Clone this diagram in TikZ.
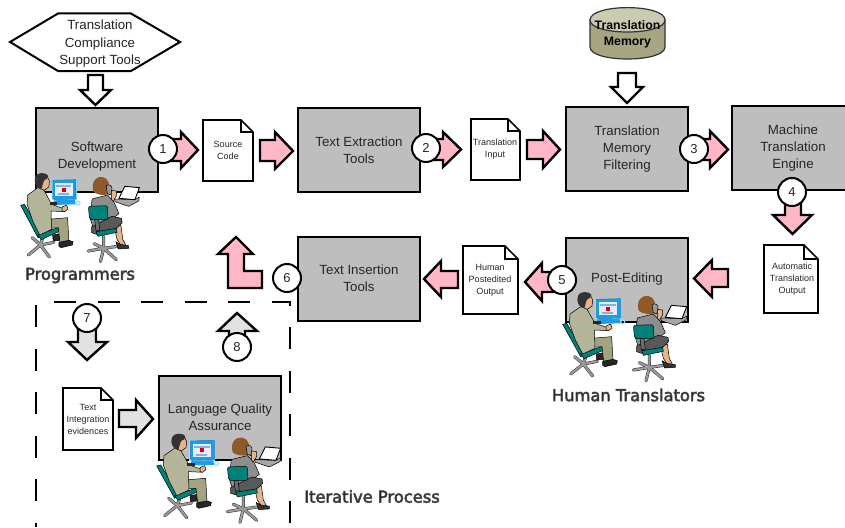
\documentclass[tikz,border=0pt]{standalone}
\usepackage{fontspec}
\setmainfont{Liberation Sans}
\newfontfamily\capfont{DejaVu Sans}
\newcommand{\halo}[1]{\special{pdf:code q 2 Tr 0.6 w 0.3 G}#1\special{pdf:code Q}}
\definecolor{boxgray}{HTML}{BEBEBE}
\definecolor{arrowpink}{HTML}{FFB6C6}
\definecolor{arrowgray}{HTML}{E2E2E2}
\definecolor{inkc}{HTML}{262626}
\definecolor{teal1}{HTML}{00827A}
\definecolor{khaki1}{HTML}{B4B498}
\definecolor{khaki2}{HTML}{A3A37F}
\definecolor{skin}{HTML}{E4B48C}
\definecolor{hairb}{HTML}{8E5A28}
\definecolor{suitg}{HTML}{8E8E8E}
\definecolor{chairg}{HTML}{9A9A9A}
\definecolor{monblue}{HTML}{1E9CE6}
\definecolor{monglow}{HTML}{8FE4FF}
\definecolor{monband}{HTML}{7FB4E0}
\definecolor{cyltop}{HTML}{CBCBB2}
\definecolor{cylbody}{HTML}{A6A683}
\tikzset{
  procbox/.style={draw=black,line width=2pt,fill=boxgray,minimum width=122pt,minimum height=84pt,inner sep=0pt,align=center,text=inkc,font=\fontsize{13.3}{17}\selectfont},
  hexbox/.style={draw=black,line width=2pt,fill=white,line join=miter},
  hextext/.style={align=center,text=inkc,inner sep=0pt,font=\fontsize{13.3}{17.5}\selectfont},
  docshape/.style={draw=black,line width=1.7pt,fill=white,line join=miter},
  doctext/.style={align=center,text=inkc,inner sep=0pt,font=\fontsize{9}{12}\selectfont},
  blockarrow/.style={draw=black,line width=2.4pt,line join=miter,miter limit=10},
  stepcircle/.style={circle,draw=black,line width=2pt,fill=white,minimum size=28pt,inner sep=0pt,text=inkc,font=\fontsize{13}{15}\selectfont},
  caption/.style={inner sep=0pt,text=inkc,font=\fontsize{16.3}{19}\capfont},
  dashframe/.style={draw=black,line width=2pt,dash pattern=on 22pt off 21.5pt},
  pline/.style={draw=black,line width=0.5pt,line join=round},
  legcase/.style={draw=black!80,line width=3.1pt,line cap=round},
  legfill/.style={draw=chairg,line width=2.1pt,line cap=round}
}
% name, x0, y0, x1, y1, fold, text x, text y, text
\newcommand{\docnode}[9]{%
  \draw[docshape] (#2,#3) -- (#4-#6,#3) -- (#4,#3+#6) -- (#4,#5) -- (#2,#5) -- cycle;
  \draw[docshape,fill=none] (#4-#6,#3) -- (#4-#6,#3+#6) -- (#4,#3+#6);
  \node[doctext] (#1) at (#7,#8) {#9};
}
% x origin, y origin, x scale
\newcommand{\peoplegroup}[3]{%
\begin{scope}[shift={(#1,#2)},x=#3pt/3,y=-1pt/3]
  % man chair
  \foreach \s in {legcase,legfill}{
    \draw[\s] (92,252) -- (130,222) -- (158,258) (172,214) -- (130,222) -- (104,200) (138,198) -- (130,222);
  }
  \draw[pline,fill=teal1] (68,103) -- (80,100) -- (136,192) -- (122,200) -- cycle;
  \draw[pline,fill=teal1] (122,192) -- (190,168) -- (192,180) -- (132,206) -- cycle;
  % man legs and shoes
  \draw[pline,fill=black!85] (168,192) -- (192,188) -- (192,208) -- (170,210) -- cycle;
  \draw[pline,fill=khaki2] (155,145) -- (215,140) -- (219,212) -- (191,214) -- (186,170) -- (160,172) -- cycle;
  \draw[pline,fill=black!85] (188,214) -- (219,208) -- (232,212) -- (230,222) -- (195,230) -- (188,226) -- cycle;
  % man body
  \draw[pline,fill=khaki1] (90,72) -- (122,50) -- (140,56) -- (165,100) -- (200,112) -- (205,122) -- (163,120) -- (165,175) -- (128,192) -- (106,150) -- (88,100) -- cycle;
  \draw[pline,fill=skin] (198,108) -- (212,102) -- (216,114) -- (206,122) -- (198,120) -- cycle;
  % man head
  \draw[pline,fill=skin] (128,22) -- (150,14) -- (158,30) -- (156,48) -- (142,58) -- (128,52) -- cycle;
  \fill[black!80] (112,30) .. controls (110,10) and (128,2) .. (146,8) .. controls (156,12) and (156,20) .. (150,24) .. controls (140,24) and (138,36) .. (134,52) .. controls (124,54) and (114,48) .. (112,30) -- cycle;
  % monitor
  \fill[monglow] (166,26) rectangle (244,88);
  \draw[line width=0.5pt,fill=monblue,draw=monblue!80!black] (169,28) -- (241,26) -- (241,84) -- (175,86) -- (169,82) -- cycle;
  \fill[white!92!blue] (176,36) rectangle (231,76);
  \fill[monband] (180,42) rectangle (227,48);
  \fill[red!85!black] (197,50) rectangle (209,62);
  \fill[monband] (186,66) rectangle (220,72);
  \fill[monblue] (172,88) -- (238,86) -- (240,100) -- (170,102) -- cycle;
  \draw[monglow,line width=1.2pt] (248,96) circle (6);
  \fill[black!85] (160,93) rectangle (182,103);
  % woman chair
  \foreach \s in {legcase,legfill}{
    \draw[\s] (280,240) -- (328,232) -- (318,272) (368,266) -- (328,232) -- (372,226) (298,218) -- (328,232) -- (328,196);
  }
  % woman legs
  \draw[pline,fill=skin] (362,170) -- (382,162) -- (388,205) -- (398,224) -- (384,226) -- (370,205) -- cycle;
  \draw[pline,fill=black!80] (366,212) -- (380,220) -- (406,224) -- (406,232) -- (374,234) -- cycle;
  % woman body
  \draw[pline,fill=suitg] (292,84) -- (340,72) -- (360,92) -- (376,128) -- (360,140) -- (350,175) -- (300,185) -- (285,140) -- cycle;
  \draw[pline,fill=black!65] (290,168) -- (354,136) -- (384,142) -- (386,155) -- (368,172) -- (305,190) -- (290,185) -- cycle;
  % woman chair back and seat
  \draw[pline,fill=teal1,rounded corners=2pt] (280,106) -- (340,104) -- (342,146) -- (284,146) -- cycle;
  \draw[pline,fill=chairg!70!black] (300,146) -- (312,146) -- (316,178) -- (304,178) -- cycle;
  \draw[pline,fill=teal1] (305,182) -- (368,172) -- (370,184) -- (310,196) -- cycle;
  % woman hair and phone
  \fill[hairb] (296,62) .. controls (288,32) and (305,14) .. (325,18) .. controls (345,22) and (348,40) .. (344,70) .. controls (330,74) and (306,72) .. (296,62) -- cycle;
  \draw[pline,fill=chairg] (336,44) .. controls (346,38) and (356,44) .. (354,56) -- (350,72) -- (340,68) -- cycle;
  \draw[pline,fill=skin] (352,58) -- (368,60) -- (368,74) -- (358,92) -- (352,84) -- cycle;
  % laptop
  \draw[pline,fill=black!35] (362,84) -- (426,86) -- (440,78) -- (438,90) -- (406,106) -- (364,92) -- cycle;
  \draw[line width=0.9pt,draw=black,fill=white] (394,46) -- (440,50) -- (426,86) -- (376,82) -- cycle;
\end{scope}}
\begin{document}
\begin{tikzpicture}[x=1pt,y=-1pt]
\useasboundingbox (0,0) rectangle (845,527);
\clip (0,0) rectangle (845,527);
\fill[white] (0,0) rectangle (845,527);
% hexagon
\draw[hexbox] (10,42) -- (58,13.5) -- (131,13.5) -- (180,42) -- (131,71) -- (58,71) -- cycle;
\node[hextext] (tools) at (100,44) {Translation\\Compliance\\Support Tools};
% cylinder
\draw[line width=1.2pt,draw=black!80,fill=cylbody] (590,20) -- (590,47) .. controls (590,63) and (665,63) .. (665,47) -- (665,20) -- cycle;
\draw[line width=1.2pt,draw=black!80,fill=cyltop] (590,20) .. controls (590,3.5) and (665,3.5) .. (665,20) .. controls (665,36) and (590,36) .. (590,20) -- cycle;
\node[align=center,inner sep=0pt,text=black,font=\fontsize{12.3}{15.5}\bfseries\selectfont] (tm) at (627.5,34.5) {Translation\\Memory};
% process boxes
\node[procbox] (swd) at (97,150) {\rule{0pt}{22pt}Software\\Development};
\node[procbox] (tet) at (359,150) {Text Extraction\\Tools};
\node[procbox] (tmf) at (627,149) {Translation\\Memory\\Filtering};
\node[procbox] (mte) at (793,148) {Machine\\Translation\\Engine};
\node[procbox] (ped) at (627,280) {\raisebox{5pt}{Post-Editing}};
\node[procbox] (tit) at (359,278.5) {Text Insertion\\Tools};
\node[procbox] (lqa) at (220,417.5) {Language Quality\\Assurance};
% documents
\docnode{srccode}{203}{120}{253}{181}{12}{228}{150}{Source\\Code}
\docnode{trinput}{471}{119}{520}{180}{12}{495}{149}{Translation\\Input}
\docnode{autoout}{764}{245}{818}{313}{14}{792}{279}{Automatic\\Translation\\Output}
\docnode{humanout}{463}{246}{518}{314}{13}{490}{280}{Human\\Postedited\\Output}
\docnode{evid}{63}{388}{113}{450}{12}{88}{419}{Text\\Integration\\evidences}
% white arrows
\draw[blockarrow,fill=white] (88,75) -- (103,75) -- (103,90) -- (111,90) -- (95.5,105) -- (80,90) -- (88,90) -- cycle;
\draw[blockarrow,fill=white] (618,73) -- (636,73) -- (636,87) -- (643,87) -- (627,103) -- (611,87) -- (618,87) -- cycle;
% pink arrows
\draw[blockarrow,fill=arrowpink] (165,139) -- (181,139) -- (181,132) -- (198,150) -- (181,168) -- (181,161) -- (165,161) -- cycle;
\draw[blockarrow,fill=arrowpink] (260,140) -- (275,140) -- (275,132) -- (293,151) -- (275,169) -- (275,161) -- (260,161) -- cycle;
\draw[blockarrow,fill=arrowpink] (430,139) -- (443,139) -- (443,132) -- (461,149.5) -- (443,167) -- (443,160) -- (430,160) -- cycle;
\draw[blockarrow,fill=arrowpink] (527,140) -- (543,140) -- (543,131) -- (560,149.5) -- (543,168) -- (543,159) -- (527,159) -- cycle;
\draw[blockarrow,fill=arrowpink] (698,139) -- (710,139) -- (710,131) -- (728,149.5) -- (710,168) -- (710,160) -- (698,160) -- cycle;
\draw[blockarrow,fill=arrowpink] (785,196) -- (801,196) -- (801,215) -- (812,215) -- (792.5,234) -- (773,215) -- (785,215) -- cycle;
\draw[blockarrow,fill=arrowpink] (728,269) -- (712,269) -- (712,260) -- (694,278.5) -- (712,297) -- (712,287) -- (728,287) -- cycle;
\draw[blockarrow,fill=arrowpink] (555,272) -- (542,272) -- (542,263) -- (525,282) -- (542,301) -- (542,292) -- (555,292) -- cycle;
\draw[blockarrow,fill=arrowpink] (458,271) -- (441,271) -- (441,261) -- (424,279) -- (441,297) -- (441,288) -- (458,288) -- cycle;
\draw[blockarrow,fill=arrowpink] (236,237) -- (253,254) -- (244,254) -- (244,271) -- (262,271) -- (262,288) -- (228,288) -- (228,254) -- (218,254) -- cycle;
% gray arrows
\draw[blockarrow,fill=arrowgray] (78,322) -- (96,322) -- (96,342) -- (107,342) -- (87,360) -- (68,342) -- (78,342) -- cycle;
\draw[blockarrow,fill=arrowgray] (237,313) -- (257,331) -- (245,331) -- (245,345) -- (229,345) -- (229,331) -- (218,331) -- cycle;
\draw[blockarrow,fill=arrowgray] (119,410) -- (136,410) -- (136,400) -- (153,419) -- (136,438) -- (136,427) -- (119,427) -- cycle;
% dashed frame
\draw[dashframe] (54,302) -- (290,302) -- (290,527);
\draw[dashframe] (36,305) -- (36,527);
% people
\peoplegroup{-1}{171}{0.957}
\peoplegroup{540}{290}{1}
\peoplegroup{134}{431.6}{1}
% circles
\node[stepcircle] (c1) at (163,149) {1};
\node[stepcircle] (c2) at (426,148) {2};
\node[stepcircle] (c3) at (694,149) {3};
\node[stepcircle] (c4) at (792,192) {4};
\node[stepcircle] (c5) at (562,280) {5};
\node[stepcircle] (c6) at (287,278) {6};
\node[stepcircle] (c7) at (87,318) {7};
\node[stepcircle] (c8) at (237,347) {8};
% captions
\node[caption] (programmers) at (80,275.5) {\halo{Programmers}};
\node[caption] (humans) at (628.5,395) {\halo{Human Translators}};
\node[caption] (iter) at (372,496.5) {\halo{Iterative Process}};
\end{tikzpicture}
\end{document}
